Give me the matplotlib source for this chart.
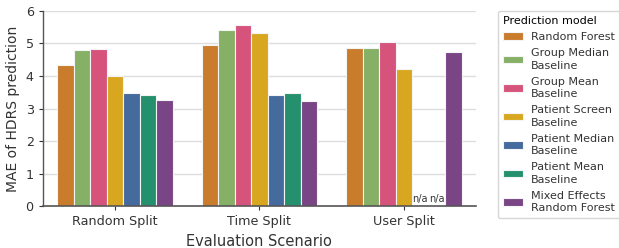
import numpy as np
import matplotlib
matplotlib.use("Agg")
import matplotlib.pyplot as plt

scenarios = ["Random Split", "Time Split", "User Split"]
models = ["Random Forest", "Group Median\nBaseline", "Group Mean\nBaseline",
          "Patient Screen\nBaseline", "Patient Median\nBaseline",
          "Patient Mean\nBaseline", "Mixed Effects\nRandom Forest"]
colors = ["#c97c2b", "#86b066", "#d6537c", "#d8a71f", "#456a9e", "#24906e", "#794585"]

rf = [4.35, 4.95, 4.85]
group_median = [4.80, 5.42, 4.85]
group_mean = [4.82, 5.58, 5.03]
patient_screen = [4.00, 5.33, 4.20]
patient_median = [3.47, 3.42, np.nan]
patient_mean = [3.40, 3.47, np.nan]
merf = [3.25, 3.22, 4.73]
values = [rf, group_median, group_mean, patient_screen, patient_median, patient_mean, merf]

fig = plt.figure(figsize=(6.19, 2.48), dpi=100)
ax = fig.add_axes([0.069, 0.169, 0.70, 0.787])

x = np.arange(len(scenarios))
w = 0.8 / len(models)
for i, (m, v, c) in enumerate(zip(models, values, colors)):
    pos = x - 0.4 + w * (i + 0.5)
    ax.bar(pos, v, width=w, color=c, edgecolor="#f4f4f4", linewidth=0.8, label=m, zorder=2)
    for p, val in zip(pos, v):
        if np.isnan(val):
            ax.text(p, 0.05, "n/a", ha="center", va="bottom", fontsize=7, color="#333333")

ax.set_xlim(-0.5, 2.5)
ax.set_ylim(0, 6)
ax.set_xticks(x)
ax.set_xticklabels(scenarios, fontsize=9.2, color="#333333")
ax.tick_params(axis="y", labelsize=9.2, labelcolor="#333333", length=3, color="#333333")
ax.tick_params(axis="x", length=3, color="#333333")
ax.set_yticks(range(7))
ax.yaxis.grid(True, color="#dddddd", linewidth=1, zorder=0)
ax.set_axisbelow(True)
for s in ["top", "right"]:
    ax.spines[s].set_visible(False)
ax.spines["left"].set_color("#555555")
ax.spines["bottom"].set_color("#555555")
ax.spines["left"].set_linewidth(1)
ax.spines["bottom"].set_linewidth(1.2)
ax.set_xlabel("Evaluation Scenario", fontsize=10.5, color="#333333")
ax.set_ylabel("MAE of HDRS prediction", fontsize=10, color="#333333")

leg = ax.legend(title="Prediction model", loc="upper left", bbox_to_anchor=(1.05, 1.0),
                borderaxespad=0, fontsize=8, title_fontsize=8, frameon=True,
                alignment="left", handlelength=1.8, handletextpad=0.75,
                labelspacing=0.55, borderpad=0.45)
leg.get_frame().set_edgecolor("#cccccc")
for t in leg.get_texts():
    t.set_color("#333333")
    t.set_linespacing(1.3)

fig.savefig("out.png", dpi=100)
